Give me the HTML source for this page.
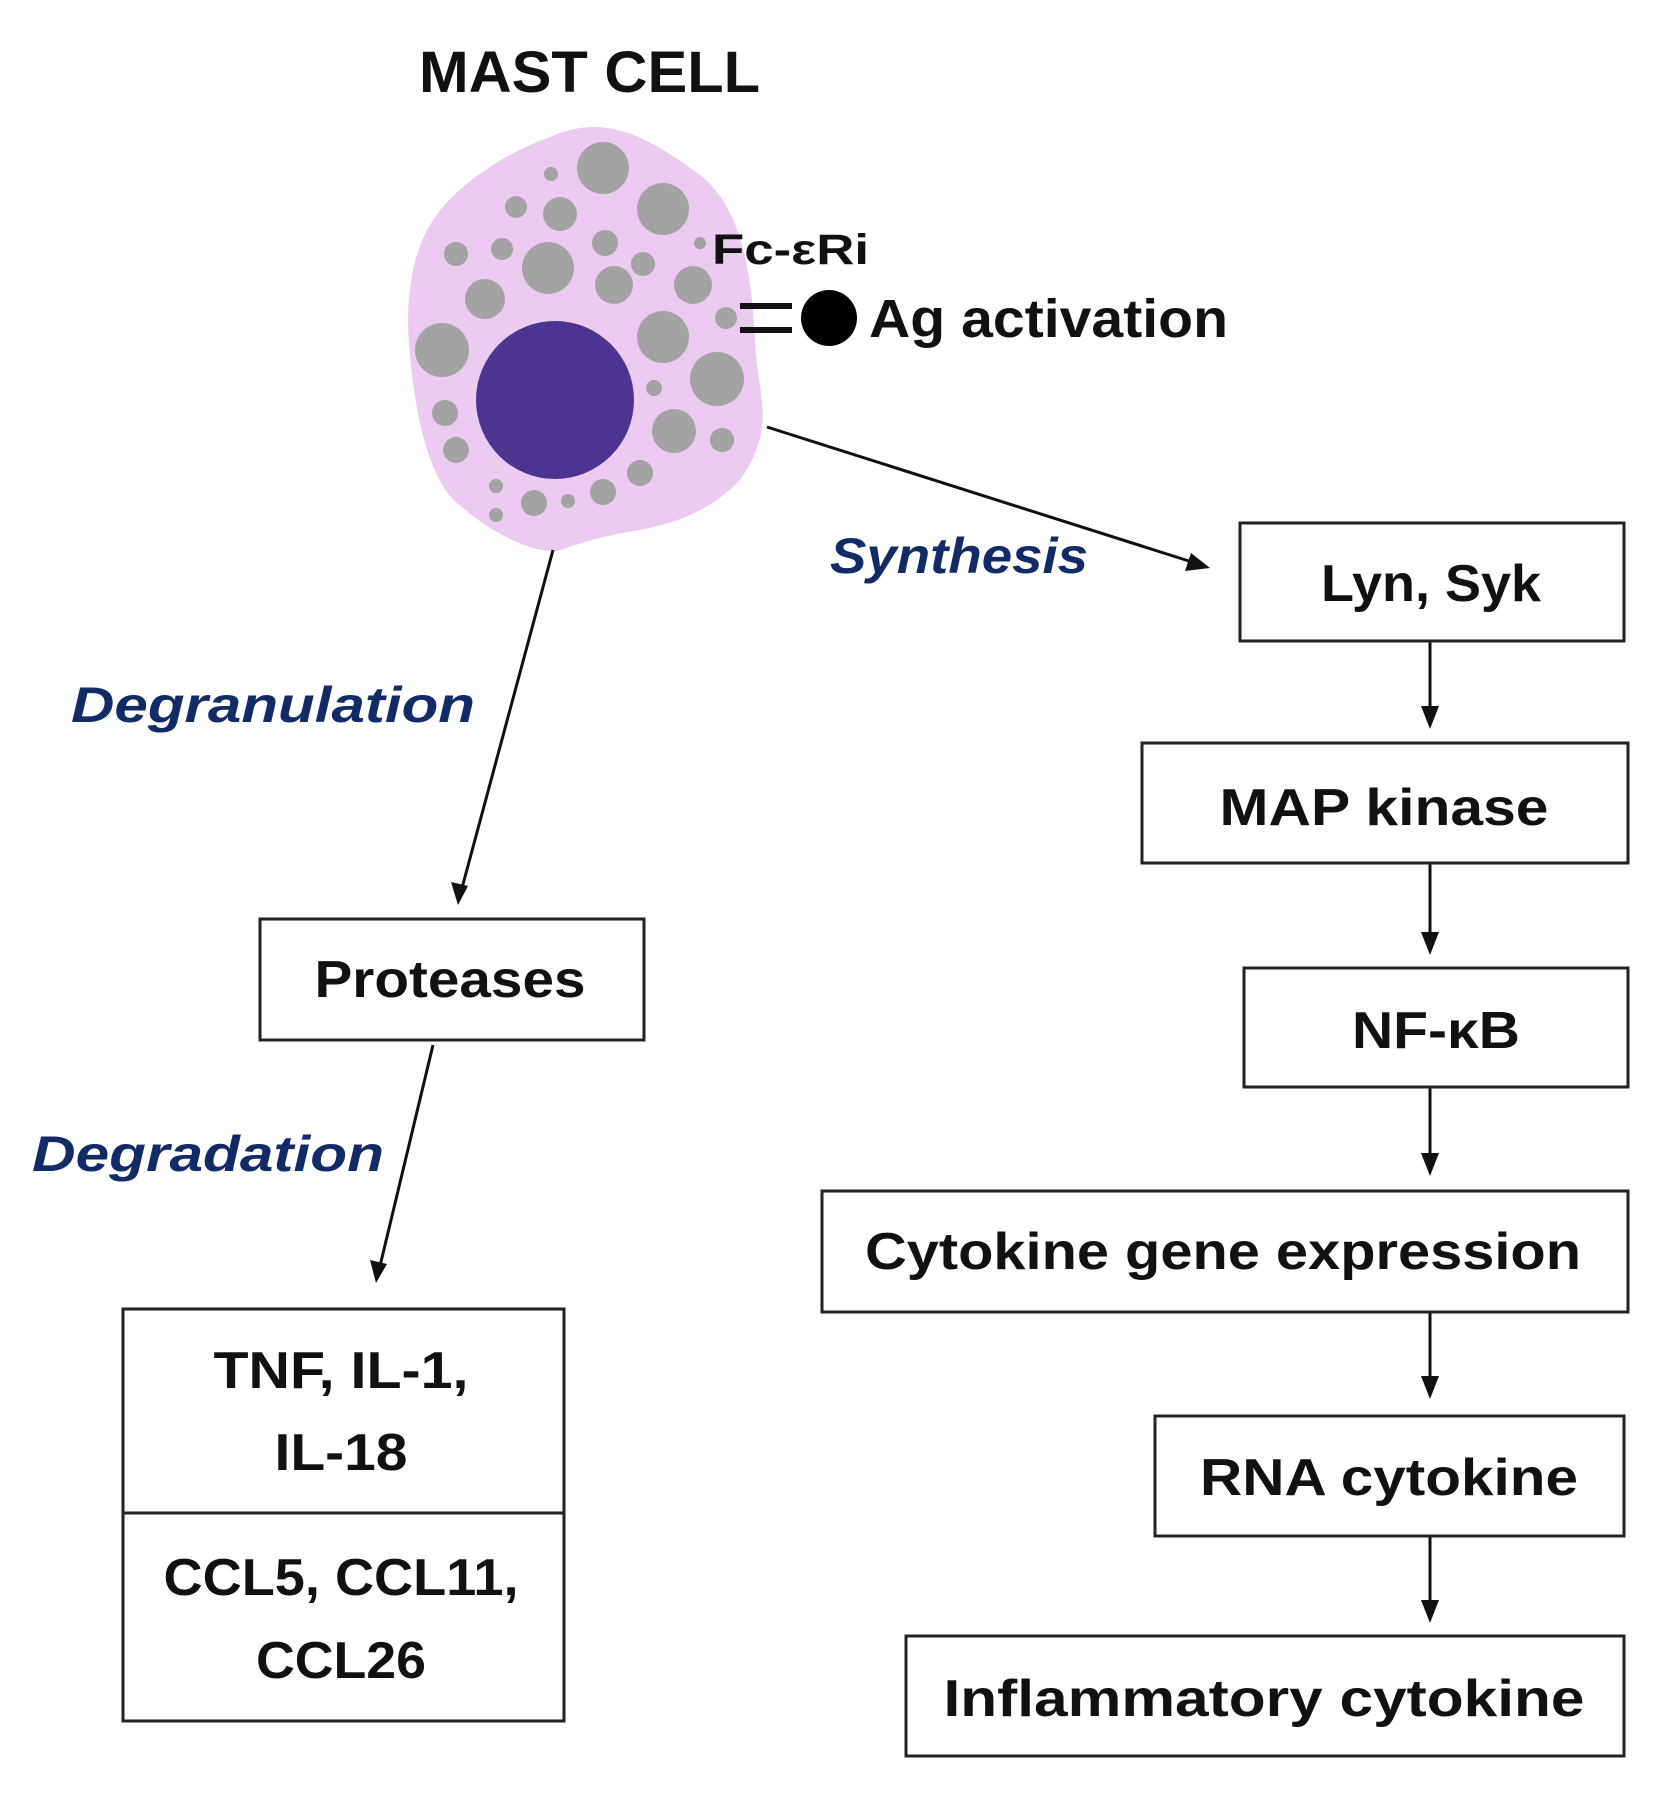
<!DOCTYPE html>
<html><head><meta charset="utf-8"><style>html,body{margin:0;padding:0;background:#fff}svg{display:block}</style></head>
<body>
<svg width="1655" height="1793" viewBox="0 0 1655 1793" xmlns="http://www.w3.org/2000/svg" font-family="'Liberation Sans', sans-serif">
<rect width="1655" height="1793" fill="#fff"/>
<text x="419" y="92" font-size="58" font-weight="bold" textLength="341" lengthAdjust="spacingAndGlyphs" fill="#111">MAST CELL</text>
<path d="M550,137 C600,115 640,130 700,175 C745,210 752,280 756,355 C760,400 775,430 740,480 C715,505 690,520 640,530 C600,536 575,545 561,550 C540,555 500,540 458,504 C430,480 415,420 409,344 C405,290 415,250 430,225 C450,190 500,155 550,137 Z" fill="#eccaf1"/>
<g fill="#a3a3a3">
<circle cx="603" cy="168" r="26"/><circle cx="551" cy="174" r="7"/><circle cx="663" cy="209" r="26"/>
<circle cx="560" cy="214" r="17"/><circle cx="516" cy="207" r="11"/><circle cx="605" cy="243" r="13"/>
<circle cx="643" cy="264" r="12"/><circle cx="548" cy="268" r="26"/><circle cx="456" cy="254" r="12"/>
<circle cx="502" cy="249" r="11"/><circle cx="614" cy="285" r="19"/><circle cx="693" cy="285" r="19"/>
<circle cx="700" cy="243" r="6"/><circle cx="485" cy="299" r="20"/><circle cx="663" cy="337" r="26"/>
<circle cx="726" cy="318" r="11"/><circle cx="442" cy="350" r="27"/><circle cx="717" cy="379" r="27"/>
<circle cx="654" cy="388" r="8"/><circle cx="445" cy="413" r="13"/><circle cx="674" cy="431" r="22"/>
<circle cx="722" cy="440" r="12"/><circle cx="456" cy="450" r="13"/><circle cx="640" cy="473" r="13"/>
<circle cx="603" cy="492" r="13"/><circle cx="568" cy="501" r="7"/><circle cx="534" cy="503" r="13"/>
<circle cx="496" cy="486" r="7"/><circle cx="496" cy="515" r="7"/>
</g>
<circle cx="555" cy="400" r="79" fill="#4b3591"/>
<text x="712" y="264" font-size="43" font-weight="bold" textLength="157" lengthAdjust="spacingAndGlyphs" fill="#111">Fc-εRi</text>
<rect x="740" y="303" width="52" height="6" fill="#111"/><rect x="740" y="327" width="52" height="6" fill="#111"/>
<ellipse cx="829" cy="318" rx="28" ry="28" fill="#000"/>
<text x="869" y="337" font-size="54" font-weight="bold" textLength="359" lengthAdjust="spacingAndGlyphs" fill="#111">Ag activation</text>
<g font-style="italic" font-weight="bold" fill="#122a66" font-size="50">
<text x="830" y="573" textLength="258" lengthAdjust="spacingAndGlyphs">Synthesis</text>
<text x="71" y="722" textLength="404" lengthAdjust="spacingAndGlyphs">Degranulation</text>
<text x="32" y="1171" textLength="352" lengthAdjust="spacingAndGlyphs">Degradation</text>
</g>
<g stroke="#111" stroke-width="3" fill="none">
<line x1="767" y1="427" x2="1192" y2="562"/>
<line x1="553" y1="550" x2="462" y2="888"/>
<line x1="433" y1="1045" x2="380" y2="1266"/>
<line x1="1430" y1="641" x2="1430" y2="710"/>
<line x1="1430" y1="863" x2="1430" y2="936"/>
<line x1="1430" y1="1087" x2="1430" y2="1157"/>
<line x1="1430" y1="1312" x2="1430" y2="1380"/>
<line x1="1430" y1="1536" x2="1430" y2="1604"/>
</g>
<g fill="#111">
<polygon points="1210,568 1185,571 1191,553"/>
<polygon points="458,905 451,882 468,886"/>
<polygon points="376,1283 370,1260 387,1264"/>
<polygon points="1430,729 1421,706 1439,706"/>
<polygon points="1430,955 1421,932 1439,932"/>
<polygon points="1430,1176 1421,1153 1439,1153"/>
<polygon points="1430,1399 1421,1376 1439,1376"/>
<polygon points="1430,1623 1421,1600 1439,1600"/>
</g>
<g fill="none" stroke="#222" stroke-width="3">
<rect x="1240" y="523" width="384" height="118"/>
<rect x="1142" y="743" width="486" height="120"/>
<rect x="1244" y="968" width="384" height="119"/>
<rect x="822" y="1191" width="806" height="121"/>
<rect x="1155" y="1416" width="469" height="120"/>
<rect x="906" y="1636" width="718" height="120"/>
<rect x="260" y="919" width="384" height="121"/>
<rect x="123" y="1309" width="441" height="412"/>
<line x1="123" y1="1513" x2="564" y2="1513"/>
</g>
<g font-size="52" font-weight="bold" fill="#111" text-anchor="middle">
<text x="1431" y="601" textLength="220" lengthAdjust="spacingAndGlyphs">Lyn, Syk</text>
<text x="1384" y="825" textLength="329" lengthAdjust="spacingAndGlyphs">MAP kinase</text>
<text x="1436" y="1048" textLength="168" lengthAdjust="spacingAndGlyphs">NF-κB</text>
<text x="1223" y="1269" textLength="716" lengthAdjust="spacingAndGlyphs">Cytokine gene expression</text>
<text x="1389" y="1495" textLength="378" lengthAdjust="spacingAndGlyphs">RNA cytokine</text>
<text x="1264" y="1716" textLength="641" lengthAdjust="spacingAndGlyphs">Inflammatory cytokine</text>
<text x="450" y="997" textLength="271" lengthAdjust="spacingAndGlyphs">Proteases</text>
<text x="341" y="1388" textLength="255" lengthAdjust="spacingAndGlyphs">TNF, IL-1,</text>
<text x="341" y="1470" textLength="133" lengthAdjust="spacingAndGlyphs">IL-18</text>
<text x="341" y="1595" textLength="355" lengthAdjust="spacingAndGlyphs">CCL5, CCL11,</text>
<text x="341" y="1678" textLength="170" lengthAdjust="spacingAndGlyphs">CCL26</text>
</g>
</svg>
</body></html>
